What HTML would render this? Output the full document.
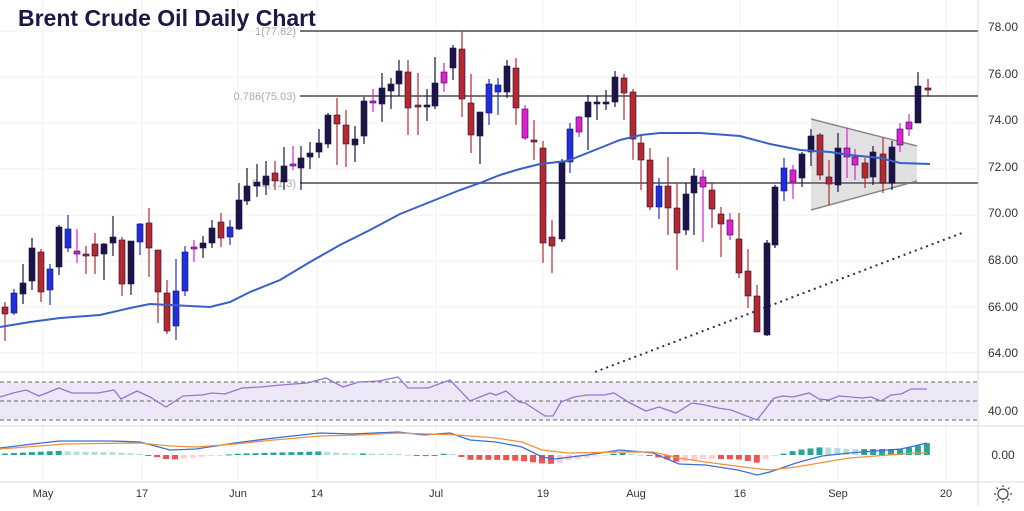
<!DOCTYPE html>
<html><head><meta charset="utf-8"><style>
body{margin:0;background:#fff;width:1024px;height:506px;overflow:hidden;font-family:"Liberation Sans",sans-serif}
svg text{font-family:"Liberation Sans",sans-serif}
</style></head><body>
<svg id="s" width="1024" height="506" xmlns="http://www.w3.org/2000/svg">
<g stroke="#f0f0f0" stroke-width="1">
<line x1="0" y1="31" x2="978" y2="31"/><line x1="0" y1="77" x2="978" y2="77"/><line x1="0" y1="123" x2="978" y2="123"/><line x1="0" y1="169" x2="978" y2="169"/><line x1="0" y1="215" x2="978" y2="215"/><line x1="0" y1="261" x2="978" y2="261"/><line x1="0" y1="307" x2="978" y2="307"/><line x1="0" y1="353" x2="978" y2="353"/>
<line x1="43" y1="0" x2="43" y2="482"/><line x1="142" y1="0" x2="142" y2="482"/><line x1="238" y1="0" x2="238" y2="482"/><line x1="317" y1="0" x2="317" y2="482"/><line x1="436" y1="0" x2="436" y2="482"/><line x1="543" y1="0" x2="543" y2="482"/><line x1="636" y1="0" x2="636" y2="482"/><line x1="740" y1="0" x2="740" y2="482"/><line x1="838" y1="0" x2="838" y2="482"/><line x1="946" y1="0" x2="946" y2="482"/>
</g>
<g stroke="#ddd"><line x1="0" y1="372" x2="1024" y2="372"/><line x1="0" y1="426" x2="1024" y2="426"/><line x1="0" y1="482" x2="1024" y2="482"/><line x1="978" y1="0" x2="978" y2="506"/></g>
<rect x="0" y="382" width="978" height="38" fill="#ede8f8"/>
<g stroke="#666" stroke-dasharray="4,3"><line x1="0" y1="382" x2="978" y2="382"/><line x1="0" y1="401" x2="978" y2="401"/><line x1="0" y1="420" x2="978" y2="420"/></g>
<polygon points="811,119 917,146 917,181 811,210" fill="#d9d9d9" fill-opacity="0.8"/>
<g stroke="#888" stroke-width="1.5"><line x1="811" y1="119" x2="917" y2="146"/><line x1="811" y1="210" x2="917" y2="181"/></g>
<g stroke="#777" stroke-width="2"><line x1="300" y1="31" x2="978" y2="31"/><line x1="300" y1="96" x2="978" y2="96"/><line x1="300" y1="183" x2="978" y2="183"/></g>
<g fill="#aaa" font-size="11" text-anchor="end"><text x="296" y="35">1(77.82)</text><text x="296" y="100">0.786(75.03)</text><text x="296" y="187">0.5(71.3)</text></g>
<line x1="595" y1="372" x2="962" y2="233" stroke="#2a2470" stroke-width="2" stroke-dasharray="2,4"/>
<g id="c"></g>
<polyline fill="none" stroke="#3a5fc8" stroke-width="2" points="0,327 30,322 60,318 100,315 130,308 150,304 170,305 210,307 230,302 250,292 280,280 310,262 340,245 370,230 400,214 430,202 460,190 480,183 500,175 520,169 540,164 567,161 600,148 620,140 641,135 660,133 700,133 740,136 770,144 800,150 830,152 850,155 880,158 900,163 930,164"/>
<polyline fill="none" stroke="#9575cd" stroke-width="1.3" points="0,397 13,393 26,390 39,396 59,388 72,393 98,393 114,390 121,399 137,391 150,397 166,407 183,396 202,395 212,393 225,394 242,388 261,387 281,385 307,383 326,378 343,387 359,382 379,381 398,377 408,388 428,388 450,380 470,401 490,393 496,395 506,391 519,402 525,403 545,416 553,416 561,402 574,397 587,395 604,395 614,393 630,403 646,411 659,407 676,413 692,403 705,405 718,408 731,410 757,420 774,398 783,396 793,397 809,393 819,399 829,400 839,396 862,398 871,397 881,401 891,395 901,394 911,389 927,389"/>
<g id="h"></g>
<polyline id="mb" fill="none" stroke="#3a6fd8" stroke-width="1.3"/>
<polyline id="mo" fill="none" stroke="#f0923a" stroke-width="1.3"/>
<text x="18" y="26" font-size="23" font-weight="bold" fill="#1e1646">Brent Crude Oil Daily Chart</text>
<g font-size="12" fill="#333" text-anchor="middle"><text x="1003" y="31">78.00</text><text x="1003" y="78">76.00</text><text x="1003" y="124">74.00</text><text x="1003" y="171">72.00</text><text x="1003" y="217">70.00</text><text x="1003" y="264">68.00</text><text x="1003" y="311">66.00</text><text x="1003" y="357">64.00</text><text x="1003" y="415">40.00</text><text x="1003" y="459">0.00</text></g>
<g font-size="11" fill="#333" text-anchor="middle"><text x="43" y="497">May</text><text x="142" y="497">17</text><text x="238" y="497">Jun</text><text x="317" y="497">14</text><text x="436" y="497">Jul</text><text x="543" y="497">19</text><text x="636" y="497">Aug</text><text x="740" y="497">16</text><text x="838" y="497">Sep</text><text x="946" y="497">20</text></g>
<g stroke="#444" stroke-width="1.2" fill="none"><circle cx="1003" cy="494" r="5"/><path d="M1003 487v-2M1003 501v2M996 494h-2M1010 494h2M998 489l-1.5-1.5M1008 499l1.5 1.5M1008 489l1.5-1.5M998 499l-1.5 1.5"/></g>
</svg>
<script>
var D="#1c1446",R="#b5282d",B="#1f2fe0",P="#e020d0";
var c=[[5,307,314,302,341,R],[14,293,313,289,315,B],[23,283,294,264,304,D],[32,248,281,238,290,D],[41,252,292,249,302,R],[50,269,290,264,305,B],[59,227,267,225,275,D],[68,229,248,215,252,B],[77,251,254,229,263,P],[86,254,256,246,274,R],[95,244,256,233,274,R],[104,244,254,243,280,D],[113,237,243,216,256,D],[122,240,284,237,296,R],[131,241,284,241,295,D],[140,224,242,223,255,B],[149,223,248,208,277,R],[158,250,292,250,323,R],[167,293,331,280,334,R],[176,291,326,259,340,B],[185,252,291,246,296,B],[194,247,249,240,262,P],[203,243,248,236,258,D],[212,228,243,220,248,D],[221,222,238,213,247,R],[230,227,237,220,245,B],[239,200,229,183,230,D],[247,186,201,168,205,D],[257,182,186,164,197,D],[266,176,185,161,195,D],[275,173,181,161,190,R],[284,166,182,147,190,D],[293,164,166,146,170,P],[301,158,168,146,190,D],[310,153,157,142,169,D],[319,143,152,129,158,D],[328,115,144,113,148,D],[337,115,124,98,165,R],[346,125,144,110,167,R],[355,139,145,126,162,D],[364,101,136,97,144,D],[373,101,103,89,112,P],[382,88,104,73,122,D],[391,84,91,78,109,D],[399,71,84,60,96,D],[408,72,108,60,135,R],[418,105,107,73,135,R],[427,105,107,89,121,D],[435,83,106,57,109,D],[444,72,83,63,92,P],[453,48,68,45,80,D],[462,49,99,31,117,R],[471,103,135,74,153,R],[480,112,136,112,164,D],[489,84,113,79,125,B],[498,85,92,78,115,B],[507,66,92,60,98,D],[516,68,108,58,125,R],[525,109,138,105,140,P],[534,140,142,120,160,R],[543,148,243,141,263,R],[552,237,246,220,273,R],[562,162,239,159,242,D],[570,129,162,123,173,B],[579,117,132,116,137,P],[588,102,117,95,150,D],[597,102,104,96,120,D],[606,102,104,90,110,D],[615,77,102,71,107,D],[624,78,93,74,120,R],[633,92,139,89,160,R],[641,143,160,134,190,R],[650,160,207,148,210,R],[659,186,207,178,219,B],[668,186,208,157,235,R],[677,208,233,183,270,R],[686,194,230,183,235,D],[694,176,193,168,235,D],[703,177,187,170,242,P],[712,190,209,182,228,R],[721,214,224,207,257,R],[730,220,235,213,240,P],[739,239,273,213,278,R],[748,271,296,249,308,R],[757,296,332,285,332,R],[767,243,335,240,336,D],[775,187,245,185,248,D],[784,168,191,158,201,B],[793,170,182,165,199,P],[802,154,178,152,187,D],[811,136,152,129,166,D],[820,135,175,133,180,R],[829,177,184,160,205,R],[838,148,185,133,192,D],[847,148,157,128,178,P],[855,157,165,149,180,P],[865,163,178,158,188,R],[873,152,177,146,185,D],[883,154,183,138,193,R],[892,147,183,141,190,D],[900,129,145,123,152,P],[909,122,129,114,136,P],[918,86,123,72,123,D],[928,88,90,79,97,R]];
var g=document.getElementById("c"),s="";
c.forEach(function(a){s+='<line x1="'+a[0]+'" x2="'+a[0]+'" y1="'+a[3]+'" y2="'+a[4]+'" stroke="'+a[5]+'" stroke-width="1.2"/>';var h=Math.max(a[2]-a[1],2);s+='<rect x="'+(a[0]-3)+'" y="'+a[1]+'" width="6" height="'+h+'" fill="'+a[5]+'" stroke="#1c1446" stroke-width="0.6"/>';});
g.innerHTML=s;
function interp(p,x){for(var i=0;i<p.length-1;i++){if(x<=p[i+1][0]){var t=(x-p[i][0])/(p[i+1][0]-p[i][0]);return p[i][1]+t*(p[i+1][1]-p[i][1]);}}return p[p.length-1][1];}
var mb=[[0,448],[33,444],[59,441],[111,441],[140,442],[170,450],[196,449],[235,443],[274,438],[320,433],[352,434],[398,432],[424,435],[450,433],[470,440],[496,442],[522,447],[542,457],[555,459],[587,455],[620,450],[653,453],[679,464],[705,465],[738,470],[757,475],[770,472],[796,463],[822,456],[849,453],[901,449],[927,443]];
var mo=[[0,449],[65,444],[140,443],[170,446],[196,447],[235,444],[274,440],[320,436],[359,435],[398,433],[457,435],[496,438],[522,442],[542,450],[568,453],[620,452],[653,452],[679,458],[705,462],[751,468],[770,470],[796,467],[849,458],[914,453],[927,453]];
document.getElementById("mb").setAttribute("points",mb.map(function(p){return p.join(",")}).join(" "));
document.getElementById("mo").setAttribute("points",mo.map(function(p){return p.join(",")}).join(" "));
var hs="",prev=0;
for(var x=5;x<=928;x+=8.95){var v=(interp(mo,x)-interp(mb,x))*1.2;var col=v>=0?(v>=prev?"#26a69a":"#b2dfdb"):(v<=prev?"#ef5350":"#ffcdd2");prev=v;var y=v>=0?455-v:455;hs+='<rect x="'+(x-3)+'" y="'+y+'" width="6" height="'+Math.max(Math.abs(v),1)+'" fill="'+col+'"/>';}
document.getElementById("h").innerHTML=hs;
</script>
</body></html>
